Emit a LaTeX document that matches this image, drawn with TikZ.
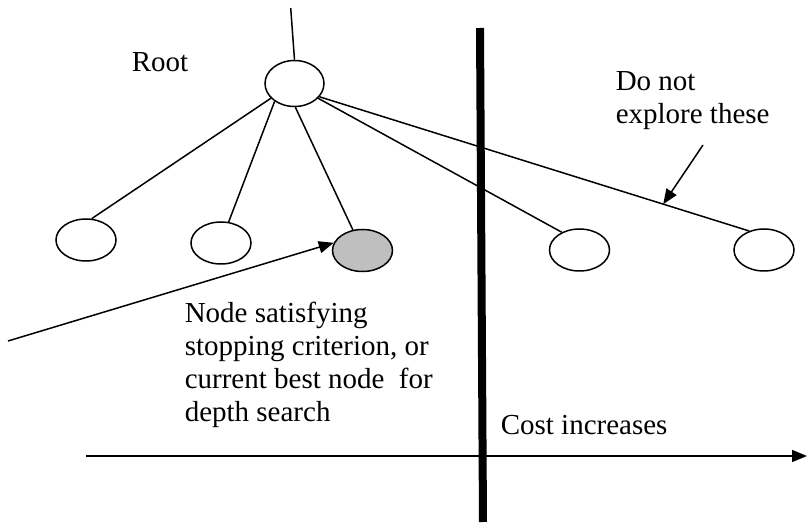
\documentclass[tikz,border=0pt]{standalone}
\usepackage{fontspec}
\setmainfont{Liberation Serif}
\usetikzlibrary{arrows.meta,shapes.geometric}

\tikzset{
	leaf/.style={draw,ellipse,minimum width=60pt,minimum height=42pt,inner sep=0pt,line width=1.5pt},
	txt/.style={font=\fontsize{29}{33}\selectfont,inner sep=0pt},
	pointer/.style={-{Triangle[length=15pt,width=12pt]}}
}

\begin{document}
\begin{tikzpicture}[x=1pt,y=-1pt,line width=1.5pt]
\useasboundingbox (0,0) rectangle (807,529);

% TREE

\node[leaf,minimum width=59pt,minimum height=46pt] (root) at (294.5,83.5) {};
\draw (290.7,8) -- (root.north);
\node[txt] (rootlabel) at (160,62) {Root};

\node[leaf] (l1) at (86,240) {};
\node[leaf] (l2) at (221,243) {};
\node[leaf,fill=black!25] (l3) at (362.5,250.5) {};
\node[leaf] (l4) at (579.5,250) {};
\node[leaf] (l5) at (764,250) {};

\draw (root.212) -- (l1.75);
\draw (root.222) -- (l2.70);
\draw (root.272) -- (l3.115);
\draw (root.328) -- (l4.135);
\draw (root.332) -- (l5.128) coordinate[pos=0.8] (hit);

% CUT-OFF BAR

\coordinate (bartop) at (480,28);
\coordinate (barbottom) at (483,522);
\draw[line width=8pt] (bartop) -- (barbottom);

% LABELS AND POINTERS

\node[txt,align=left,anchor=west] (prune) at (615,101) {Do not\\explore these};
\coordinate (prunetail) at (703,145);
\draw[pointer] (prunetail) -- (hit);

\node[txt,align=left,anchor=west] (best) at (184,365) {Node satisfying\\stopping criterion, or\\current best node~ for\\depth search};
\coordinate (besttail) at (8,341);
\draw[pointer] (besttail) -- (l3.165);

% COST AXIS

\coordinate (axisstart) at (86,456);
\coordinate (axisend) at (807,456);
\draw[pointer] (axisstart) -- (axisend);
\node[txt,anchor=west] (cost) at (500,425) {Cost increases};

\end{tikzpicture}
\end{document}
